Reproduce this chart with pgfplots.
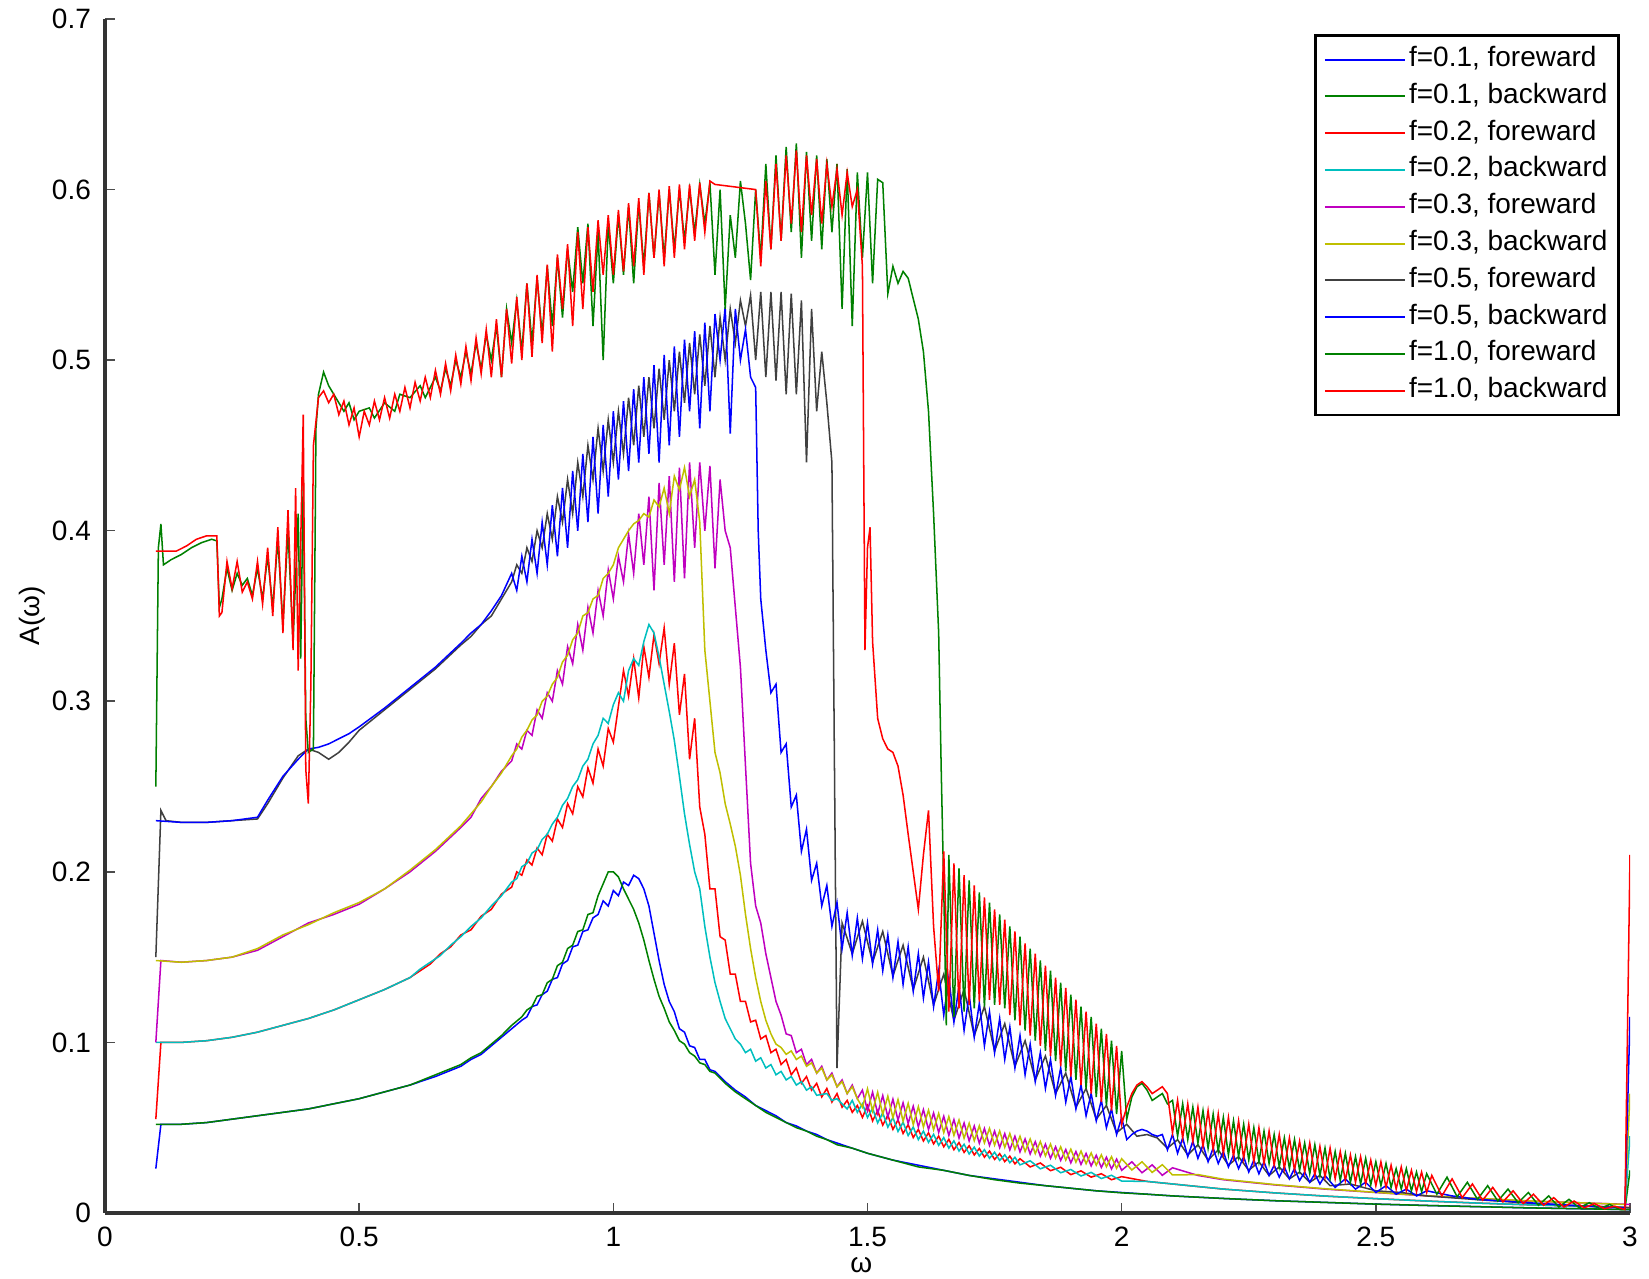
\documentclass[border=0pt]{standalone}
\usepackage{fontspec}
\setmainfont{Liberation Sans}
\usepackage{pgfplots}
\pgfplotsset{compat=1.18}
\definecolor{mblue}{rgb}{0,0,1}
\definecolor{mgreen}{rgb}{0,0.5,0}
\definecolor{mred}{rgb}{1,0,0}
\definecolor{mcyan}{rgb}{0,0.75,0.75}
\definecolor{mmag}{rgb}{0.75,0,0.75}
\definecolor{myel}{rgb}{0.75,0.75,0}
\definecolor{mgray}{rgb}{0.25,0.25,0.25}
\begin{document}
\begin{tikzpicture}
\begin{axis}[
  name=ax,
  scale only axis, width=381.25pt, height=298.5pt,
  xmin=0, xmax=3, ymin=0, ymax=0.7,
  axis x line*=bottom, axis y line*=left,
  axis line style={line width=0.8pt, black!80},
  tick align=inside, major tick length=2.5pt,
  tick style={black!70, line width=0.4pt},
  xtick={0,0.5,1,1.5,2,2.5,3}, xticklabels={0,0.5,1,1.5,2,2.5,3},
  ytick={0,0.1,0.2,0.3,0.4,0.5,0.6,0.7}, yticklabels={0,0.1,0.2,0.3,0.4,0.5,0.6,0.7},
  tick label style={font=\fontsize{7}{8}\selectfont},
  xlabel={ω}, ylabel={A(ω)},
  xlabel style={at={(axis description cs:0.496,-0.0435)}, anchor=center, font=\fontsize{7}{8}\selectfont},
  ylabel style={at={(axis description cs:-0.048,0.5)}, anchor=center, font=\fontsize{7}{8}\selectfont},
  title={Comparing A(ω) for an Anharmonic Driven Damped Oscillator},
  title style={at={(axis description cs:0.5,1)}, anchor=base, yshift=3.5pt, xshift=7pt, font=\fontsize{7}{8}\selectfont},
  no markers,
  every axis plot/.append style={line width=0.38pt},
  legend cell align=left,
  legend style={at={(rel axis cs:0.9935,0.9875)}, anchor=north east, draw=black, line width=0.7pt,
    font=\fontsize{7}{8}\selectfont, inner sep=2pt, row sep=1.1pt,
    nodes={inner sep=0.8pt, text height=5pt, text depth=1.5pt}},
  legend image code/.code={\draw[#1,line width=0.5pt] (0pt,0pt) -- (20pt,0pt);},
]
% f=0.1 forward
\addplot[mblue] coordinates {(0.1,0.026)(0.11,0.052)(0.15,0.052)(0.2,0.053)(0.25,0.055)(0.3,0.057)(0.35,0.059)(0.4,0.061)(0.45,0.064)(0.5,0.067)(0.55,0.071)(0.6,0.075)(0.65,0.080)(0.7,0.086)(0.72,0.09)(0.74,0.093)(0.76,0.098)(0.78,0.103)(0.8,0.108)(0.82,0.113)(0.83,0.115)(0.84,0.121)(0.85,0.122)(0.86,0.128)(0.87,0.13)(0.88,0.137)(0.89,0.138)(0.9,0.146)(0.91,0.148)(0.92,0.156)(0.93,0.157)(0.94,0.165)(0.95,0.166)(0.96,0.173)(0.97,0.175)(0.98,0.183)(0.99,0.18)(1.0,0.189)(1.01,0.186)(1.02,0.194)(1.03,0.192)(1.04,0.198)(1.05,0.196)(1.06,0.19)(1.07,0.18)(1.08,0.164)(1.09,0.148)(1.1,0.134)(1.11,0.124)(1.12,0.118)(1.13,0.108)(1.14,0.106)(1.15,0.098)(1.16,0.097)(1.17,0.09)(1.18,0.09)(1.19,0.084)(1.2,0.083)(1.22,0.077)(1.24,0.072)(1.26,0.068)(1.28,0.063)(1.3,0.06)(1.32,0.057)(1.34,0.053)(1.36,0.051)(1.38,0.048)(1.4,0.046)(1.42,0.043)(1.44,0.041)(1.47,0.038)(1.5,0.035)(1.55,0.031)(1.6,0.028)(1.65,0.025)(1.7,0.022)(1.75,0.02)(1.8,0.018)(1.85,0.016)(1.9,0.0145)(1.95,0.013)(2.0,0.012)(2.05,0.011)(2.1,0.01)(2.2,0.0085)(2.3,0.0072)(2.4,0.0062)(2.5,0.0052)(2.6,0.0044)(2.7,0.0037)(2.8,0.003)(2.9,0.0025)(3.0,0.002)};
\addlegendentry{f=0.1, foreward}
% f=0.1 backward
\addplot[mgreen] coordinates {(0.1,0.052)(0.15,0.052)(0.2,0.053)(0.25,0.055)(0.3,0.057)(0.35,0.059)(0.4,0.061)(0.45,0.064)(0.5,0.067)(0.55,0.071)(0.6,0.075)(0.65,0.081)(0.7,0.087)(0.72,0.091)(0.74,0.094)(0.76,0.099)(0.78,0.104)(0.8,0.11)(0.82,0.115)(0.83,0.119)(0.84,0.121)(0.85,0.127)(0.86,0.128)(0.87,0.135)(0.88,0.137)(0.89,0.145)(0.9,0.147)(0.91,0.155)(0.92,0.157)(0.93,0.165)(0.94,0.166)(0.95,0.175)(0.96,0.176)(0.97,0.186)(0.98,0.193)(0.99,0.2)(1.0,0.2)(1.01,0.197)(1.02,0.19)(1.03,0.184)(1.04,0.178)(1.05,0.17)(1.06,0.16)(1.07,0.148)(1.08,0.137)(1.09,0.127)(1.1,0.12)(1.11,0.112)(1.12,0.107)(1.13,0.101)(1.14,0.099)(1.15,0.094)(1.16,0.092)(1.17,0.088)(1.18,0.087)(1.19,0.083)(1.2,0.082)(1.22,0.076)(1.24,0.071)(1.26,0.067)(1.28,0.063)(1.3,0.059)(1.32,0.056)(1.34,0.053)(1.36,0.05)(1.38,0.048)(1.4,0.045)(1.42,0.043)(1.44,0.04)(1.47,0.038)(1.5,0.035)(1.55,0.031)(1.6,0.027)(1.65,0.025)(1.7,0.022)(1.75,0.0195)(1.8,0.0175)(1.85,0.016)(1.9,0.0145)(1.95,0.013)(2.0,0.0118)(2.05,0.011)(2.1,0.01)(2.2,0.0085)(2.3,0.0072)(2.4,0.0062)(2.5,0.0052)(2.6,0.0044)(2.7,0.0037)(2.8,0.003)(2.9,0.0025)(2.99,0.002)(3.0,0.025)};
\addlegendentry{f=0.1, backward}
% f=0.2 forward
\addplot[mred] coordinates {(0.1,0.055)(0.11,0.1)(0.15,0.1)(0.2,0.101)(0.25,0.103)(0.3,0.106)(0.35,0.11)(0.4,0.114)(0.45,0.119)(0.5,0.125)(0.55,0.131)(0.6,0.138)(0.62,0.142)(0.64,0.146)(0.66,0.152)(0.68,0.156)(0.7,0.163)(0.72,0.166)(0.74,0.174)(0.76,0.178)(0.78,0.187)(0.8,0.191)(0.81,0.2)(0.82,0.198)(0.83,0.207)(0.84,0.204)(0.85,0.214)(0.86,0.21)(0.87,0.222)(0.88,0.218)(0.89,0.231)(0.9,0.226)(0.91,0.24)(0.92,0.234)(0.93,0.25)(0.94,0.244)(0.95,0.261)(0.96,0.252)(0.97,0.272)(0.98,0.262)(0.99,0.284)(1.0,0.276)(1.01,0.297)(1.02,0.318)(1.03,0.303)(1.04,0.325)(1.05,0.302)(1.06,0.332)(1.07,0.314)(1.08,0.339)(1.09,0.322)(1.1,0.343)(1.11,0.31)(1.12,0.334)(1.13,0.292)(1.14,0.316)(1.15,0.266)(1.16,0.29)(1.17,0.238)(1.18,0.222)(1.19,0.19)(1.2,0.19)(1.21,0.162)(1.22,0.16)(1.23,0.14)(1.24,0.14)(1.25,0.124)(1.26,0.124)(1.27,0.112)(1.28,0.113)(1.29,0.102)(1.3,0.104)(1.31,0.094)(1.32,0.096)(1.33,0.087)(1.34,0.09)(1.35,0.081)(1.36,0.085)(1.37,0.076)(1.38,0.08)(1.39,0.072)(1.4,0.076)(1.41,0.068)(1.42,0.073)(1.43,0.065)(1.44,0.07)(1.45,0.062)(1.46,0.066)(1.47,0.059)(1.48,0.063)(1.49,0.056)(1.5,0.063)(1.51,0.054)(1.52,0.060)(1.53,0.0515)(1.54,0.0573)(1.55,0.049)(1.56,0.0546)(1.57,0.0466)(1.58,0.0518)(1.59,0.0442)(1.6,0.049)(1.61,0.0422)(1.62,0.047)(1.63,0.0405)(1.64,0.0451)(1.65,0.0388)(1.66,0.0432)(1.67,0.0371)(1.68,0.0413)(1.69,0.0355)(1.7,0.0394)(1.71,0.034)(1.72,0.0378)(1.73,0.0327)(1.74,0.0363)(1.75,0.0314)(1.76,0.0348)(1.77,0.0301)(1.78,0.0333)(1.79,0.0288)(1.8,0.0318)(1.82,0.027)(1.84,0.0293)(1.86,0.0248)(1.88,0.0268)(1.9,0.0225)(1.92,0.0247)(1.94,0.021)(1.96,0.023)(1.98,0.0195)(2.0,0.0213)(2.05,0.0185)(2.1,0.017)(2.2,0.014)(2.3,0.0118)(2.4,0.0099)(2.5,0.0084)(2.6,0.007)(2.7,0.0058)(2.8,0.0048)(2.9,0.004)(3.0,0.0033)};
\addlegendentry{f=0.2, foreward}
% f=0.2 backward
\addplot[mcyan] coordinates {(0.1,0.1)(0.15,0.1)(0.2,0.101)(0.25,0.103)(0.3,0.106)(0.35,0.11)(0.4,0.114)(0.45,0.119)(0.5,0.125)(0.55,0.131)(0.6,0.138)(0.62,0.143)(0.64,0.147)(0.66,0.151)(0.68,0.157)(0.7,0.162)(0.72,0.168)(0.74,0.173)(0.76,0.18)(0.78,0.186)(0.8,0.194)(0.81,0.196)(0.82,0.203)(0.83,0.205)(0.84,0.211)(0.85,0.213)(0.86,0.219)(0.87,0.222)(0.88,0.228)(0.89,0.232)(0.9,0.239)(0.91,0.243)(0.92,0.25)(0.93,0.254)(0.94,0.262)(0.95,0.266)(0.96,0.275)(0.97,0.28)(0.98,0.29)(0.99,0.287)(1.0,0.298)(1.01,0.305)(1.02,0.3)(1.03,0.318)(1.04,0.325)(1.05,0.321)(1.06,0.335)(1.07,0.345)(1.08,0.34)(1.09,0.326)(1.1,0.31)(1.11,0.294)(1.12,0.277)(1.13,0.256)(1.14,0.234)(1.15,0.216)(1.16,0.2)(1.17,0.19)(1.18,0.168)(1.19,0.15)(1.2,0.135)(1.21,0.124)(1.22,0.114)(1.23,0.108)(1.24,0.102)(1.25,0.099)(1.26,0.094)(1.27,0.096)(1.28,0.089)(1.29,0.091)(1.3,0.085)(1.31,0.087)(1.32,0.081)(1.33,0.083)(1.34,0.078)(1.35,0.08)(1.36,0.075)(1.37,0.077)(1.38,0.072)(1.39,0.074)(1.4,0.069)(1.42,0.07)(1.43,0.066)(1.44,0.067)(1.46,0.061)(1.47,0.066)(1.48,0.059)(1.49,0.064)(1.5,0.056)(1.51,0.0614)(1.52,0.0528)(1.53,0.0587)(1.54,0.0503)(1.55,0.056)(1.56,0.0478)(1.57,0.0532)(1.58,0.0454)(1.59,0.0504)(1.6,0.043)(1.61,0.048)(1.62,0.0414)(1.63,0.0461)(1.64,0.0397)(1.65,0.0442)(1.66,0.038)(1.67,0.0423)(1.68,0.0363)(1.69,0.0403)(1.7,0.0346)(1.71,0.0386)(1.72,0.0334)(1.73,0.0371)(1.74,0.0321)(1.75,0.0356)(1.76,0.0308)(1.77,0.0341)(1.78,0.0295)(1.79,0.0326)(1.8,0.0282)(1.82,0.0306)(1.84,0.0259)(1.86,0.028)(1.88,0.0236)(1.9,0.0255)(1.92,0.0217)(1.94,0.0238)(1.96,0.0202)(1.98,0.0221)(2.0,0.0187)(2.05,0.0185)(2.1,0.017)(2.2,0.014)(2.3,0.0118)(2.4,0.0099)(2.5,0.0084)(2.6,0.007)(2.7,0.0058)(2.8,0.0048)(2.9,0.004)(2.99,0.0033)(3.0,0.045)};
\addlegendentry{f=0.2, backward}
% f=0.3 forward
\addplot[mmag] coordinates {(0.1,0.1)(0.11,0.148)(0.15,0.147)(0.2,0.148)(0.25,0.15)(0.3,0.154)(0.35,0.162)(0.4,0.17)(0.45,0.175)(0.5,0.181)(0.55,0.19)(0.6,0.2)(0.65,0.212)(0.7,0.226)(0.72,0.232)(0.74,0.243)(0.76,0.25)(0.78,0.259)(0.8,0.265)(0.81,0.275)(0.82,0.272)(0.83,0.283)(0.84,0.28)(0.85,0.295)(0.86,0.29)(0.87,0.305)(0.88,0.3)(0.89,0.318)(0.9,0.31)(0.91,0.332)(0.92,0.322)(0.93,0.345)(0.94,0.33)(0.95,0.355)(0.96,0.34)(0.97,0.365)(0.98,0.35)(0.99,0.377)(1.0,0.36)(1.01,0.385)(1.02,0.37)(1.03,0.398)(1.04,0.375)(1.05,0.41)(1.06,0.38)(1.07,0.42)(1.08,0.365)(1.09,0.428)(1.1,0.38)(1.11,0.432)(1.12,0.37)(1.13,0.437)(1.14,0.372)(1.15,0.44)(1.16,0.39)(1.17,0.44)(1.18,0.4)(1.19,0.438)(1.2,0.378)(1.21,0.43)(1.22,0.4)(1.23,0.39)(1.24,0.355)(1.25,0.32)(1.26,0.262)(1.27,0.205)(1.28,0.18)(1.29,0.17)(1.3,0.152)(1.31,0.138)(1.32,0.124)(1.33,0.116)(1.34,0.105)(1.35,0.104)(1.36,0.094)(1.37,0.096)(1.38,0.087)(1.39,0.09)(1.4,0.082)(1.41,0.086)(1.42,0.078)(1.43,0.082)(1.44,0.074)(1.45,0.078)(1.46,0.07)(1.47,0.075)(1.48,0.067)(1.49,0.072)(1.5,0.060)(1.51,0.0708)(1.52,0.0583)(1.53,0.0688)(1.54,0.0563)(1.55,0.0667)(1.56,0.0544)(1.57,0.0646)(1.58,0.0525)(1.59,0.0626)(1.6,0.0505)(1.61,0.0606)(1.62,0.0489)(1.63,0.0586)(1.64,0.0472)(1.65,0.0567)(1.66,0.0455)(1.67,0.0547)(1.68,0.0439)(1.69,0.0528)(1.7,0.0422)(1.71,0.051)(1.72,0.0409)(1.73,0.0495)(1.74,0.0396)(1.75,0.048)(1.76,0.0383)(1.77,0.0465)(1.78,0.037)(1.79,0.045)(1.8,0.0358)(1.81,0.0434)(1.82,0.0346)(1.83,0.0418)(1.84,0.0333)(1.85,0.0403)(1.86,0.032)(1.87,0.0388)(1.88,0.0308)(1.89,0.0372)(1.9,0.0294)(1.91,0.036)(1.92,0.0285)(1.93,0.0349)(1.94,0.0276)(1.95,0.0338)(1.96,0.0267)(1.97,0.0327)(1.98,0.0258)(1.99,0.0316)(2.0,0.025)(2.02,0.03)(2.04,0.0236)(2.06,0.0282)(2.08,0.0221)(2.1,0.0265)(2.15,0.022)(2.2,0.0195)(2.3,0.0165)(2.4,0.014)(2.5,0.012)(2.6,0.01)(2.7,0.0085)(2.8,0.007)(2.9,0.006)(3.0,0.005)};
\addlegendentry{f=0.3, foreward}
% f=0.3 backward
\addplot[myel] coordinates {(0.1,0.148)(0.15,0.147)(0.2,0.148)(0.25,0.15)(0.3,0.155)(0.35,0.163)(0.4,0.169)(0.45,0.176)(0.5,0.182)(0.55,0.19)(0.6,0.201)(0.65,0.213)(0.7,0.227)(0.72,0.234)(0.74,0.241)(0.76,0.25)(0.78,0.258)(0.8,0.268)(0.81,0.272)(0.82,0.279)(0.83,0.283)(0.84,0.289)(0.85,0.292)(0.86,0.3)(0.87,0.303)(0.88,0.31)(0.89,0.314)(0.9,0.323)(0.91,0.327)(0.92,0.336)(0.93,0.34)(0.94,0.35)(0.95,0.352)(0.96,0.36)(0.97,0.362)(0.98,0.372)(0.99,0.375)(1.0,0.38)(1.01,0.39)(1.02,0.395)(1.03,0.4)(1.04,0.404)(1.05,0.406)(1.06,0.41)(1.07,0.408)(1.08,0.418)(1.09,0.414)(1.1,0.425)(1.11,0.41)(1.12,0.432)(1.13,0.424)(1.14,0.437)(1.15,0.42)(1.16,0.43)(1.17,0.405)(1.18,0.33)(1.19,0.3)(1.2,0.27)(1.21,0.258)(1.22,0.24)(1.23,0.228)(1.24,0.215)(1.25,0.198)(1.26,0.175)(1.27,0.155)(1.28,0.138)(1.29,0.124)(1.3,0.113)(1.31,0.105)(1.32,0.099)(1.33,0.097)(1.34,0.093)(1.35,0.095)(1.36,0.09)(1.37,0.092)(1.38,0.086)(1.39,0.088)(1.4,0.082)(1.41,0.085)(1.42,0.078)(1.43,0.081)(1.44,0.074)(1.45,0.077)(1.46,0.07)(1.47,0.074)(1.48,0.067)(1.49,0.062)(1.5,0.0728)(1.51,0.0598)(1.52,0.0708)(1.53,0.0578)(1.54,0.0685)(1.55,0.0558)(1.56,0.0665)(1.57,0.0538)(1.58,0.0643)(1.59,0.0518)(1.6,0.0623)(1.61,0.0504)(1.62,0.0603)(1.63,0.0488)(1.64,0.0584)(1.65,0.0471)(1.66,0.0565)(1.67,0.0455)(1.68,0.0545)(1.69,0.0438)(1.7,0.0526)(1.71,0.0424)(1.72,0.0511)(1.73,0.0411)(1.74,0.0496)(1.75,0.0398)(1.76,0.0481)(1.77,0.0385)(1.78,0.0466)(1.79,0.0372)(1.8,0.045)(1.81,0.036)(1.82,0.0434)(1.83,0.0348)(1.84,0.0419)(1.85,0.0335)(1.86,0.0404)(1.87,0.0322)(1.88,0.0388)(1.89,0.031)(1.9,0.0374)(1.91,0.0298)(1.92,0.0363)(1.93,0.0289)(1.94,0.0352)(1.95,0.028)(1.96,0.0341)(1.97,0.0271)(1.98,0.033)(1.99,0.0262)(2.0,0.0318)(2.02,0.0252)(2.04,0.03)(2.06,0.0238)(2.08,0.0283)(2.1,0.0223)(2.15,0.0225)(2.2,0.0198)(2.3,0.0167)(2.4,0.0142)(2.5,0.0121)(2.6,0.0101)(2.7,0.0086)(2.8,0.0071)(2.9,0.006)(2.99,0.005)(3.0,0.07)};
\addlegendentry{f=0.3, backward}
% f=0.5 forward
\addplot[mgray] coordinates {(0.1,0.15)(0.11,0.236)(0.12,0.23)(0.15,0.229)(0.2,0.229)(0.25,0.23)(0.3,0.231)(0.32,0.24)(0.35,0.255)(0.38,0.268)(0.4,0.272)(0.42,0.27)(0.44,0.266)(0.46,0.27)(0.48,0.276)(0.5,0.283)(0.55,0.295)(0.6,0.307)(0.65,0.319)(0.7,0.333)(0.72,0.338)(0.74,0.345)(0.76,0.35)(0.78,0.36)(0.8,0.37)(0.81,0.38)(0.82,0.375)(0.83,0.39)(0.84,0.382)(0.85,0.4)(0.86,0.39)(0.87,0.41)(0.88,0.395)(0.89,0.42)(0.9,0.405)(0.91,0.43)(0.92,0.41)(0.93,0.44)(0.94,0.42)(0.95,0.45)(0.96,0.43)(0.97,0.46)(0.98,0.435)(0.99,0.465)(1.0,0.44)(1.01,0.47)(1.02,0.445)(1.03,0.478)(1.04,0.45)(1.05,0.485)(1.06,0.455)(1.07,0.49)(1.08,0.46)(1.09,0.495)(1.1,0.465)(1.11,0.5)(1.12,0.47)(1.13,0.505)(1.14,0.475)(1.15,0.51)(1.16,0.48)(1.17,0.515)(1.18,0.485)(1.19,0.52)(1.2,0.49)(1.21,0.525)(1.22,0.5)(1.23,0.53)(1.24,0.51)(1.25,0.535)(1.26,0.52)(1.27,0.538)(1.28,0.5)(1.29,0.54)(1.3,0.49)(1.31,0.54)(1.32,0.488)(1.33,0.54)(1.34,0.48)(1.35,0.539)(1.36,0.48)(1.37,0.535)(1.38,0.44)(1.39,0.53)(1.4,0.47)(1.41,0.505)(1.42,0.475)(1.43,0.44)(1.44,0.085)(1.45,0.17)(1.47,0.152)(1.49,0.171)(1.51,0.147)(1.53,0.165)(1.55,0.139)(1.57,0.157)(1.59,0.131)(1.61,0.15)(1.63,0.122)(1.65,0.14)(1.67,0.113)(1.69,0.131)(1.71,0.104)(1.73,0.121)(1.75,0.095)(1.77,0.111)(1.79,0.086)(1.81,0.101)(1.83,0.078)(1.85,0.092)(1.87,0.07)(1.89,0.082)(1.91,0.062)(1.93,0.073)(1.95,0.055)(1.97,0.063)(1.99,0.047)(2.01,0.052)(2.03,0.045)(2.05,0.046)(2.07,0.044)(2.09,0.038)(2.11,0.043)(2.13,0.034)(2.15,0.04)(2.17,0.031)(2.19,0.037)(2.21,0.028)(2.23,0.033)(2.25,0.025)(2.27,0.03)(2.29,0.022)(2.31,0.027)(2.33,0.02)(2.35,0.024)(2.37,0.018)(2.39,0.022)(2.41,0.016)(2.45,0.017)(2.5,0.013)(2.55,0.012)(2.6,0.01)(2.7,0.0078)(2.8,0.0058)(2.9,0.0042)(3.0,0.003)};
\addlegendentry{f=0.5, foreward}
% f=0.5 backward
\addplot[mblue] coordinates {(0.1,0.23)(0.15,0.229)(0.2,0.229)(0.25,0.23)(0.3,0.232)(0.32,0.242)(0.35,0.256)(0.38,0.266)(0.4,0.272)(0.42,0.273)(0.44,0.275)(0.46,0.278)(0.48,0.281)(0.5,0.285)(0.55,0.296)(0.6,0.308)(0.65,0.32)(0.7,0.334)(0.72,0.34)(0.74,0.345)(0.76,0.353)(0.78,0.362)(0.8,0.375)(0.81,0.365)(0.82,0.385)(0.83,0.37)(0.84,0.395)(0.85,0.375)(0.86,0.405)(0.87,0.38)(0.88,0.415)(0.89,0.385)(0.9,0.425)(0.91,0.39)(0.92,0.435)(0.93,0.4)(0.94,0.445)(0.95,0.405)(0.96,0.455)(0.97,0.41)(0.98,0.462)(0.99,0.42)(1.0,0.47)(1.01,0.43)(1.02,0.476)(1.03,0.435)(1.04,0.483)(1.05,0.44)(1.06,0.49)(1.07,0.445)(1.08,0.497)(1.09,0.44)(1.1,0.503)(1.11,0.45)(1.12,0.508)(1.13,0.455)(1.14,0.512)(1.15,0.47)(1.16,0.517)(1.17,0.46)(1.18,0.522)(1.19,0.47)(1.2,0.527)(1.21,0.5)(1.22,0.531)(1.23,0.457)(1.24,0.53)(1.25,0.5)(1.26,0.518)(1.27,0.49)(1.28,0.484)(1.285,0.4)(1.29,0.36)(1.3,0.33)(1.31,0.305)(1.32,0.31)(1.33,0.27)(1.34,0.275)(1.35,0.238)(1.36,0.245)(1.37,0.212)(1.38,0.225)(1.39,0.195)(1.4,0.205)(1.41,0.18)(1.42,0.192)(1.43,0.168)(1.44,0.182)(1.45,0.155)(1.46,0.176)(1.47,0.151)(1.48,0.173)(1.49,0.149)(1.5,0.17)(1.51,0.146)(1.52,0.166)(1.53,0.142)(1.54,0.163)(1.55,0.138)(1.56,0.159)(1.57,0.134)(1.58,0.156)(1.59,0.130)(1.6,0.152)(1.61,0.126)(1.62,0.147)(1.63,0.121)(1.64,0.142)(1.65,0.116)(1.66,0.138)(1.67,0.112)(1.68,0.133)(1.69,0.107)(1.7,0.128)(1.71,0.103)(1.72,0.123)(1.73,0.098)(1.74,0.118)(1.75,0.094)(1.76,0.114)(1.77,0.090)(1.78,0.109)(1.79,0.085)(1.8,0.104)(1.81,0.081)(1.82,0.099)(1.83,0.077)(1.84,0.094)(1.85,0.073)(1.86,0.090)(1.87,0.069)(1.88,0.085)(1.89,0.065)(1.9,0.080)(1.91,0.061)(1.92,0.075)(1.93,0.057)(1.94,0.070)(1.95,0.054)(1.96,0.066)(1.97,0.050)(1.98,0.061)(1.99,0.046)(2.0,0.056)(2.01,0.043)(2.02,0.046)(2.03,0.048)(2.04,0.049)(2.05,0.048)(2.06,0.046)(2.07,0.045)(2.08,0.046)(2.09,0.037)(2.1,0.046)(2.11,0.035)(2.12,0.044)(2.13,0.033)(2.14,0.042)(2.15,0.032)(2.16,0.040)(2.17,0.030)(2.18,0.038)(2.19,0.029)(2.2,0.036)(2.21,0.027)(2.22,0.034)(2.23,0.026)(2.24,0.033)(2.25,0.024)(2.26,0.031)(2.27,0.023)(2.28,0.030)(2.29,0.022)(2.3,0.028)(2.31,0.021)(2.32,0.027)(2.33,0.020)(2.34,0.026)(2.35,0.019)(2.36,0.024)(2.37,0.018)(2.38,0.023)(2.39,0.017)(2.4,0.022)(2.42,0.015)(2.44,0.020)(2.46,0.014)(2.48,0.018)(2.5,0.012)(2.52,0.016)(2.54,0.011)(2.56,0.014)(2.58,0.010)(2.6,0.013)(2.65,0.010)(2.7,0.008)(2.8,0.006)(2.9,0.0042)(2.99,0.003)(3.0,0.115)};
\addlegendentry{f=0.5, backward}
% f=1.0 forward
\addplot[mgreen] coordinates {(0.1,0.25)(0.105,0.39)(0.11,0.404)(0.115,0.38)(0.13,0.383)(0.15,0.386)(0.17,0.39)(0.19,0.393)(0.21,0.395)(0.22,0.394)(0.225,0.355)(0.23,0.36)(0.24,0.378)(0.25,0.365)(0.26,0.375)(0.27,0.368)(0.28,0.372)(0.29,0.362)(0.3,0.378)(0.31,0.36)(0.32,0.385)(0.33,0.355)(0.34,0.395)(0.35,0.345)(0.36,0.4)(0.37,0.335)(0.38,0.41)(0.385,0.325)(0.39,0.43)(0.395,0.29)(0.4,0.27)(0.41,0.272)(0.415,0.46)(0.42,0.48)(0.43,0.493)(0.44,0.485)(0.45,0.48)(0.46,0.475)(0.47,0.47)(0.48,0.475)(0.49,0.465)(0.5,0.47)(0.52,0.472)(0.53,0.466)(0.55,0.475)(0.57,0.47)(0.58,0.48)(0.6,0.478)(0.62,0.485)(0.63,0.478)(0.65,0.49)(0.66,0.482)(0.67,0.495)(0.68,0.485)(0.69,0.5)(0.7,0.49)(0.71,0.505)(0.72,0.492)(0.73,0.51)(0.74,0.495)(0.75,0.515)(0.76,0.5)(0.77,0.52)(0.78,0.49)(0.79,0.53)(0.8,0.51)(0.81,0.535)(0.82,0.505)(0.83,0.545)(0.84,0.51)(0.85,0.548)(0.86,0.515)(0.87,0.555)(0.88,0.52)(0.89,0.56)(0.9,0.525)(0.91,0.565)(0.92,0.54)(0.93,0.578)(0.94,0.545)(0.95,0.58)(0.96,0.52)(0.97,0.575)(0.98,0.5)(0.99,0.58)(1.0,0.545)(1.01,0.585)(1.02,0.55)(1.03,0.59)(1.04,0.545)(1.05,0.592)(1.06,0.555)(1.07,0.598)(1.08,0.56)(1.09,0.598)(1.1,0.56)(1.11,0.6)(1.12,0.565)(1.13,0.6)(1.14,0.57)(1.15,0.6)(1.16,0.575)(1.17,0.603)(1.18,0.58)(1.19,0.604)(1.2,0.55)(1.21,0.6)(1.22,0.53)(1.23,0.585)(1.24,0.56)(1.25,0.605)(1.26,0.58)(1.27,0.547)(1.28,0.6)(1.29,0.56)(1.3,0.615)(1.31,0.565)(1.32,0.62)(1.33,0.57)(1.34,0.625)(1.35,0.575)(1.36,0.627)(1.37,0.56)(1.38,0.622)(1.39,0.57)(1.4,0.62)(1.41,0.565)(1.42,0.618)(1.43,0.575)(1.44,0.615)(1.45,0.53)(1.46,0.612)(1.47,0.52)(1.48,0.61)(1.49,0.56)(1.5,0.61)(1.51,0.545)(1.52,0.606)(1.53,0.604)(1.54,0.539)(1.55,0.555)(1.56,0.545)(1.57,0.552)(1.58,0.548)(1.6,0.524)(1.61,0.505)(1.62,0.47)(1.63,0.41)(1.64,0.34)(1.645,0.26)(1.65,0.19)(1.655,0.11)(1.66,0.21)(1.67,0.115)(1.68,0.202)(1.69,0.118)(1.7,0.195)(1.71,0.12)(1.72,0.188)(1.73,0.121)(1.74,0.182)(1.75,0.122)(1.76,0.175)(1.77,0.12)(1.78,0.168)(1.79,0.113)(1.8,0.162)(1.81,0.107)(1.82,0.155)(1.83,0.101)(1.84,0.148)(1.85,0.095)(1.86,0.142)(1.87,0.089)(1.88,0.135)(1.89,0.083)(1.9,0.128)(1.91,0.078)(1.92,0.121)(1.93,0.073)(1.94,0.115)(1.95,0.068)(1.96,0.108)(1.97,0.063)(1.98,0.101)(1.99,0.058)(2.0,0.095)(2.01,0.055)(2.02,0.068)(2.03,0.074)(2.04,0.076)(2.05,0.072)(2.06,0.066)(2.07,0.068)(2.08,0.07)(2.09,0.064)(2.1,0.066)(2.11,0.045)(2.12,0.064)(2.13,0.043)(2.14,0.062)(2.15,0.041)(2.16,0.06)(2.17,0.038)(2.18,0.058)(2.19,0.036)(2.2,0.056)(2.21,0.034)(2.22,0.054)(2.23,0.033)(2.24,0.052)(2.25,0.031)(2.26,0.05)(2.27,0.03)(2.28,0.048)(2.29,0.029)(2.3,0.046)(2.31,0.027)(2.32,0.044)(2.33,0.026)(2.34,0.043)(2.35,0.025)(2.36,0.041)(2.37,0.023)(2.38,0.04)(2.39,0.022)(2.4,0.038)(2.41,0.02)(2.42,0.036)(2.43,0.019)(2.44,0.035)(2.45,0.018)(2.46,0.033)(2.47,0.017)(2.48,0.032)(2.49,0.0165)(2.5,0.03)(2.51,0.016)(2.52,0.029)(2.53,0.015)(2.54,0.026)(2.55,0.014)(2.56,0.026)(2.57,0.013)(2.58,0.024)(2.59,0.0125)(2.6,0.023)(2.62,0.011)(2.64,0.021)(2.66,0.0095)(2.68,0.018)(2.7,0.008)(2.72,0.016)(2.74,0.007)(2.76,0.014)(2.78,0.006)(2.8,0.012)(2.82,0.0045)(2.84,0.010)(2.86,0.0035)(2.88,0.008)(2.9,0.003)(2.92,0.006)(2.94,0.0025)(2.96,0.005)(2.98,0.002)(3.0,0.002)};
\addlegendentry{f=1.0, foreward}
% f=1.0 backward
\addplot[mred] coordinates {(0.1,0.388)(0.12,0.388)(0.14,0.388)(0.16,0.391)(0.18,0.395)(0.2,0.397)(0.22,0.397)(0.225,0.35)(0.23,0.352)(0.24,0.382)(0.25,0.366)(0.26,0.382)(0.27,0.364)(0.28,0.37)(0.29,0.36)(0.3,0.382)(0.31,0.357)(0.32,0.39)(0.33,0.35)(0.34,0.402)(0.35,0.34)(0.36,0.412)(0.37,0.33)(0.375,0.425)(0.38,0.318)(0.39,0.468)(0.395,0.26)(0.4,0.24)(0.405,0.31)(0.41,0.45)(0.42,0.478)(0.43,0.482)(0.44,0.475)(0.45,0.48)(0.46,0.468)(0.47,0.476)(0.48,0.462)(0.49,0.472)(0.5,0.455)(0.51,0.47)(0.52,0.462)(0.53,0.476)(0.54,0.465)(0.55,0.478)(0.56,0.466)(0.57,0.48)(0.58,0.47)(0.59,0.484)(0.6,0.472)(0.61,0.487)(0.62,0.476)(0.63,0.49)(0.64,0.478)(0.65,0.494)(0.66,0.48)(0.67,0.498)(0.68,0.482)(0.69,0.503)(0.7,0.486)(0.71,0.508)(0.72,0.488)(0.73,0.513)(0.74,0.492)(0.75,0.518)(0.76,0.49)(0.77,0.524)(0.78,0.49)(0.79,0.53)(0.8,0.498)(0.81,0.537)(0.82,0.5)(0.83,0.545)(0.84,0.502)(0.85,0.55)(0.86,0.51)(0.87,0.556)(0.88,0.505)(0.89,0.562)(0.9,0.53)(0.91,0.568)(0.92,0.52)(0.93,0.575)(0.94,0.53)(0.95,0.578)(0.96,0.54)(0.97,0.582)(0.98,0.55)(0.99,0.585)(1.0,0.55)(1.01,0.588)(1.02,0.552)(1.03,0.592)(1.04,0.555)(1.05,0.595)(1.06,0.55)(1.07,0.598)(1.08,0.56)(1.09,0.6)(1.1,0.555)(1.11,0.602)(1.12,0.56)(1.13,0.603)(1.14,0.565)(1.15,0.603)(1.16,0.57)(1.17,0.604)(1.18,0.575)(1.19,0.605)(1.2,0.603)(1.28,0.6)(1.29,0.555)(1.3,0.605)(1.31,0.565)(1.32,0.615)(1.33,0.57)(1.34,0.62)(1.35,0.58)(1.36,0.623)(1.37,0.575)(1.38,0.62)(1.39,0.585)(1.4,0.618)(1.41,0.58)(1.42,0.615)(1.43,0.59)(1.44,0.612)(1.45,0.585)(1.46,0.61)(1.47,0.59)(1.48,0.6)(1.49,0.555)(1.495,0.33)(1.5,0.39)(1.505,0.402)(1.51,0.335)(1.52,0.29)(1.53,0.278)(1.54,0.272)(1.55,0.27)(1.56,0.262)(1.57,0.245)(1.58,0.222)(1.59,0.2)(1.6,0.178)(1.61,0.21)(1.62,0.236)(1.63,0.168)(1.64,0.13)(1.65,0.212)(1.66,0.118)(1.67,0.205)(1.68,0.12)(1.69,0.198)(1.7,0.122)(1.71,0.192)(1.72,0.124)(1.73,0.185)(1.74,0.125)(1.75,0.178)(1.76,0.122)(1.77,0.172)(1.78,0.116)(1.79,0.165)(1.8,0.11)(1.81,0.158)(1.82,0.104)(1.83,0.152)(1.84,0.098)(1.85,0.145)(1.86,0.092)(1.87,0.138)(1.88,0.086)(1.89,0.132)(1.9,0.08)(1.91,0.125)(1.92,0.075)(1.93,0.118)(1.94,0.07)(1.95,0.111)(1.96,0.065)(1.97,0.105)(1.98,0.06)(1.99,0.098)(2.0,0.052)(2.01,0.062)(2.02,0.07)(2.03,0.075)(2.04,0.077)(2.05,0.074)(2.06,0.07)(2.07,0.072)(2.08,0.074)(2.09,0.07)(2.1,0.047)(2.11,0.066)(2.12,0.044)(2.13,0.064)(2.14,0.042)(2.15,0.062)(2.16,0.039)(2.17,0.06)(2.18,0.037)(2.19,0.058)(2.2,0.035)(2.21,0.056)(2.22,0.033)(2.23,0.054)(2.24,0.032)(2.25,0.052)(2.26,0.03)(2.27,0.05)(2.28,0.029)(2.29,0.048)(2.3,0.028)(2.31,0.046)(2.32,0.026)(2.33,0.044)(2.34,0.025)(2.35,0.042)(2.36,0.024)(2.37,0.041)(2.38,0.022)(2.39,0.039)(2.4,0.021)(2.41,0.038)(2.42,0.02)(2.43,0.036)(2.44,0.019)(2.45,0.034)(2.46,0.018)(2.47,0.033)(2.48,0.017)(2.49,0.031)(2.5,0.016)(2.51,0.03)(2.52,0.015)(2.53,0.028)(2.54,0.014)(2.55,0.027)(2.56,0.013)(2.57,0.025)(2.58,0.0125)(2.59,0.024)(2.6,0.012)(2.61,0.022)(2.63,0.01)(2.65,0.02)(2.67,0.009)(2.69,0.017)(2.71,0.0075)(2.73,0.015)(2.75,0.0065)(2.77,0.013)(2.79,0.0055)(2.81,0.011)(2.83,0.0045)(2.85,0.009)(2.87,0.0035)(2.89,0.007)(2.91,0.003)(2.93,0.0055)(2.95,0.0025)(2.97,0.004)(2.99,0.002)(3.0,0.21)};
\addlegendentry{f=1.0, backward}
\end{axis}
\pgfresetboundingbox
\path[use as bounding box] ([xshift=-26.25pt,yshift=-16.5pt]ax.south west) rectangle ([xshift=4.75pt,yshift=4.75pt]ax.north east);
\end{tikzpicture}
\end{document}
